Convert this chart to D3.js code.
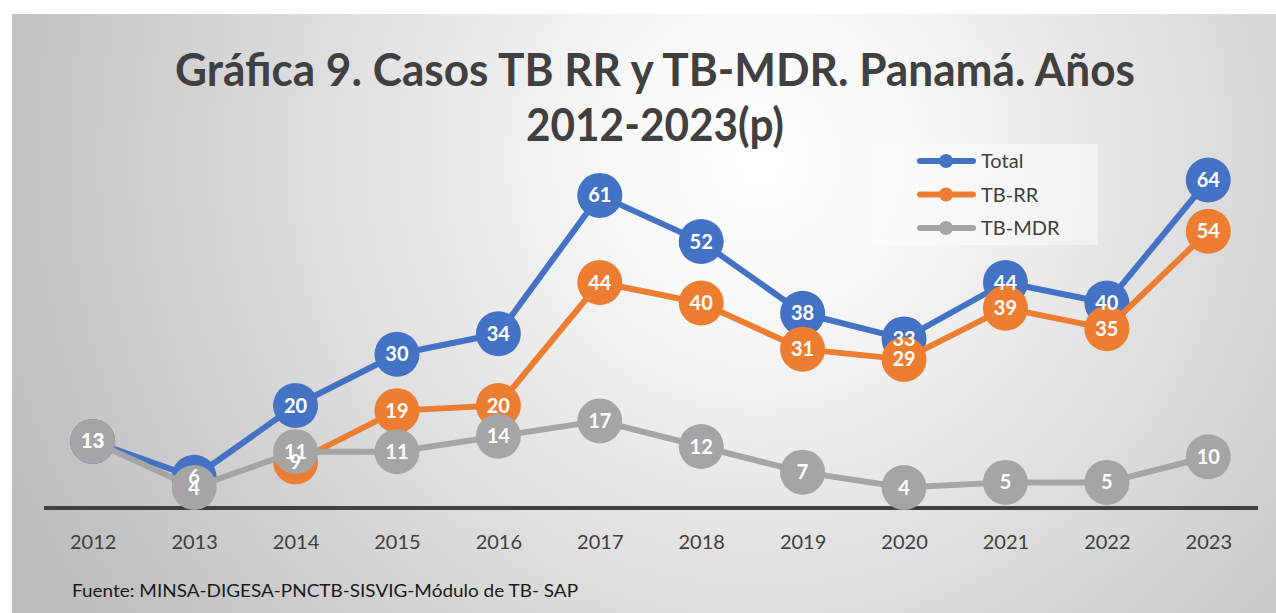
<!DOCTYPE html>
<html>
<head>
<meta charset="utf-8">
<script src="https://cdn.jsdelivr.net/npm/d3@7"></script>
<style>
  html, body { margin: 0; padding: 0; background: #ffffff; }
  svg { display: block; }
</style>
</head>
<body>
<svg id="chart" width="1276" height="613"></svg>
<script>
// ---- data ----
const years = ["2012","2013","2014","2015","2016","2017","2018","2019","2020","2021","2022","2023"];
const total = [13, 6, 20, 30, 34, 61, 52, 38, 33, 44, 40, 64];
const tbRR  = [null, null, 9, 19, 20, 44, 40, 31, 29, 39, 35, 54];
const tbMDR = [13, 4, 11, 11, 14, 17, 12, 7, 4, 5, 5, 10];
const seriesNames = ["Total", "TB-RR", "TB-MDR"];
const titleLines = ["Gráfica 9. Casos TB RR y TB-MDR. Panamá. Años", "2012-2023(p)"];
const sourceText = "Fuente: MINSA-DIGESA-PNCTB-SISVIG-Módulo de TB- SAP";

const colors = ["#4472C4", "#ED7D31", "#A5A5A5"];
const series = [total, tbRR, tbMDR].map((vals, i) => ({
  name: seriesNames[i], color: colors[i],
  points: vals.map((v, j) => ({ year: years[j], value: v }))
}));

const svg = d3.select("#chart");
const defs = svg.append("defs");
const grad = defs.append("radialGradient").attr("id", "bg")
  .attr("gradientUnits", "userSpaceOnUse")
  .attr("cx", 760).attr("cy", 160).attr("r", 820);
grad.append("stop").attr("offset", "0%").attr("stop-color", "#ffffff");
grad.append("stop").attr("offset", "18%").attr("stop-color", "#f8f8f8");
grad.append("stop").attr("offset", "100%").attr("stop-color", "#bdbdbd");

svg.append("rect").attr("x", 12).attr("y", 14).attr("width", 1264).attr("height", 599)
  .attr("fill", "url(#bg)");

const font = "Lato, 'Open Sans', sans-serif";

// title
const titleY = [86, 141];
const titleW = [960, 258];
titleLines.forEach((t, i) => {
  svg.append("text").attr("x", 655).attr("y", titleY[i])
    .attr("text-anchor", "middle")
    .attr("font-family", font).attr("font-weight", "bold")
    .attr("font-size", 46).attr("fill", "#404040")
    .attr("textLength", titleW[i]).attr("lengthAdjust", "spacingAndGlyphs")
    .text(t);
});

// scales
const x = d3.scalePoint().domain(years).range([42, 1259]).padding(0.5);
const y = d3.scaleLinear().domain([0, 70]).range([508, 149.25]);

// x axis
const xAxis = svg.append("g").attr("transform", `translate(0,${y(0)})`)
  .call(d3.axisBottom(x).tickSize(0).tickPadding(0));
xAxis.select(".domain").attr("stroke", "#404040").attr("stroke-width", 4)
  .attr("d", "M44,0H1258");
xAxis.selectAll(".tick text")
  .attr("font-family", font).attr("font-size", 20).attr("fill", "#404040")
  .attr("dy", 0).attr("y", 41);

// series
const line = d3.line()
  .defined(d => d.value !== null)
  .x(d => x(d.year)).y(d => y(d.value));

series.forEach(s => {
  const g = svg.append("g");
  g.append("path").datum(s.points)
    .attr("fill", "none").attr("stroke", s.color).attr("stroke-width", 6)
    .attr("stroke-linejoin", "round").attr("d", line);
  g.selectAll("circle").data(s.points.filter(d => d.value !== null)).join("circle")
    .attr("cx", d => x(d.year)).attr("cy", d => y(d.value)).attr("r", 22.5)
    .attr("fill", s.color);
});

// labels on top
series.forEach(s => {
  svg.append("g").selectAll("text").data(s.points.filter(d => d.value !== null)).join("text")
    .attr("x", d => x(d.year)).attr("y", d => y(d.value) + 7)
    .attr("text-anchor", "middle")
    .attr("font-family", font).attr("font-weight", "bold").attr("font-size", 20)
    .attr("fill", "#ffffff")
    .text(d => d.value);
});

// legend
const lg = svg.append("g");
lg.append("rect").attr("x", 872).attr("y", 144).attr("width", 226).attr("height", 101)
  .attr("fill", "#ffffff").attr("fill-opacity", 0.45);
series.forEach((s, i) => {
  const cy = 161 + i * 33.5;
  lg.append("line").attr("x1", 920).attr("x2", 973).attr("y1", cy).attr("y2", cy)
    .attr("stroke", s.color).attr("stroke-width", 6).attr("stroke-linecap", "round");
  lg.append("circle").attr("cx", 946).attr("cy", cy).attr("r", 7).attr("fill", s.color);
  lg.append("text").attr("x", 981).attr("y", cy + 7)
    .attr("font-family", font).attr("font-size", 20).attr("fill", "#404040")
    .text(s.name);
});

// source
svg.append("text").attr("x", 72).attr("y", 597)
  .attr("font-family", font).attr("font-size", 18).attr("fill", "#1a1a1a")
  .attr("textLength", 506).attr("lengthAdjust", "spacingAndGlyphs")
  .text(sourceText);
</script>
</body>
</html>
